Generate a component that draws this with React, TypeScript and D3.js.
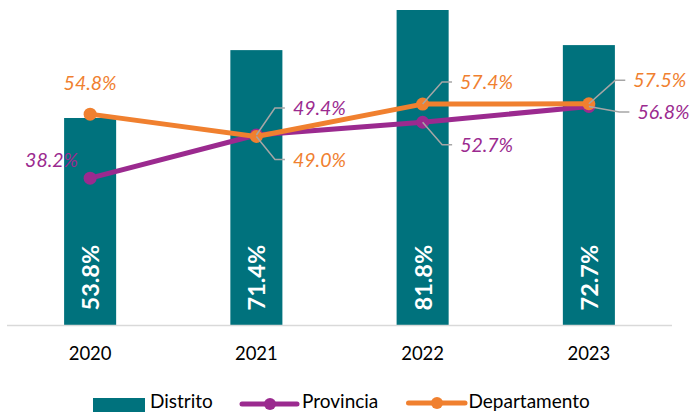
import React from "react";
import * as d3 from "d3";

const years = ["2020", "2021", "2022", "2023"];
const distrito = [53.8, 71.4, 81.8, 72.7];
const provincia = [38.2, 49.4, 52.7, 56.8];
const departamento = [54.8, 49.0, 57.4, 57.5];
const seriesNames = ["Distrito", "Provincia", "Departamento"];

// label placement (offsets from the point)
const provLabelLayout = [
  { dx: -12, dy: -11.5, anchor: "end", leader: false },
  { dx: 36.5, dy: -20, anchor: "start", leader: true },
  { dx: 37.5, dy: 29.5, anchor: "start", leader: true },
  { dx: 48.5, dy: 12.6, anchor: "start", leader: true },
];
const depLabelLayout = [
  { dx: 0, dy: -24, anchor: "middle", leader: false },
  { dx: 36.6, dy: 30, anchor: "start", leader: true },
  { dx: 37.4, dy: -15, anchor: "start", leader: true },
  { dx: 44.4, dy: -16.4, anchor: "start", leader: true },
];

const W = 693;
const H = 412;
const TEAL = "#00727D";
const PURPLE = "#9B2A8F";
const ORANGE = "#F0802F";
const FONT = "Lato, 'Noto Sans', sans-serif";

export default function App() {
  const x = d3.scaleBand<string>().domain(years).range([7, 672]).paddingInner(0).paddingOuter(0);
  const y = d3.scaleLinear().domain([0, 81.8]).range([325.5, 10]);
  const barW = x.bandwidth() * 0.313;
  const cx = (yr: string) => (x(yr) as number) + x.bandwidth() / 2;
  const fmt = (v: number) => v.toFixed(1) + "%";

  const line = d3
    .line<number>()
    .x((_, i) => cx(years[i]))
    .y((v) => y(v));

  const renderLabels = (vals: number[], layout: typeof provLabelLayout, color: string, key: string) =>
    vals.map((v, i) => {
      const px = cx(years[i]);
      const py = y(v);
      const L = layout[i];
      const tx = px + L.dx;
      const ty = py + L.dy;
      const endX = tx - 8;
      const midY = ty - 7;
      return (
        <g key={key + i}>
          {L.leader && (
            <polyline
              points={`${px},${py} ${endX - 10},${midY} ${endX},${midY}`}
              fill="none"
              stroke="#A6A6A6"
              strokeWidth={1.5}
            />
          )}
          <text
            x={tx}
            y={ty}
            textAnchor={L.anchor as any}
            fill={color}
            fontStyle="italic"
            fontSize={19.5}
            fontFamily={FONT}
          >
            {fmt(v)}
          </text>
        </g>
      );
    });

  return (
    <svg width={W} height={H} style={{ position: "absolute", left: 0, top: 0 }} xmlns="http://www.w3.org/2000/svg">
      <rect width={W} height={H} fill="#fff" />
      {/* bars */}
      {distrito.map((v, i) => (
        <rect key={"b" + i} x={cx(years[i]) - barW / 2} y={y(v)} width={barW} height={y(0) - y(v)} fill={TEAL} />
      ))}
      {/* axis line */}
      <line x1={7} x2={672} y1={y(0)} y2={y(0)} stroke="#D9D9D9" strokeWidth={1.5} />
      {/* bar labels */}
      {distrito.map((v, i) => (
        <text
          key={"bl" + i}
          transform={`translate(${cx(years[i])},${y(0) - 15}) rotate(-90)`}
          dominantBaseline="central"
          textAnchor="start"
          fill="#fff"
          fontWeight="bold"
          fontSize={23.5}
          fontFamily={FONT}
        >
          {fmt(v)}
        </text>
      ))}
      {/* year labels */}
      {years.map((yr) => (
        <text key={yr} x={cx(yr)} y={360} textAnchor="middle" fontSize={18.5} fontFamily={FONT} fill="#000">
          {yr}
        </text>
      ))}
      {/* lines */}
      <path d={line(provincia) || ""} fill="none" stroke={PURPLE} strokeWidth={5} strokeLinejoin="round" />
      {provincia.map((v, i) => (
        <circle key={"pc" + i} cx={cx(years[i])} cy={y(v)} r={6.5} fill={PURPLE} />
      ))}
      <path d={line(departamento) || ""} fill="none" stroke={ORANGE} strokeWidth={5} strokeLinejoin="round" />
      {departamento.map((v, i) => (
        <circle key={"dc" + i} cx={cx(years[i])} cy={y(v)} r={6.5} fill={ORANGE} />
      ))}
      {renderLabels(provincia, provLabelLayout, PURPLE, "pl")}
      {renderLabels(departamento, depLabelLayout, ORANGE, "dl")}
      {/* legend */}
      <g fontFamily={FONT} fontSize={19} fill="#000">
        <rect x={93} y={398} width={52} height={16} fill={TEAL} />
        <text x={150} y={408}>{seriesNames[0]}</text>
        <line x1={242} x2={297} y1={404} y2={404} stroke={PURPLE} strokeWidth={5} strokeLinecap="round" />
        <circle cx={270} cy={404} r={6} fill={PURPLE} />
        <text x={302} y={408}>{seriesNames[1]}</text>
        <line x1={408.5} x2={465} y1={403} y2={403} stroke={ORANGE} strokeWidth={5} strokeLinecap="round" />
        <circle cx={437} cy={403} r={6} fill={ORANGE} />
        <text x={468.5} y={408}>{seriesNames[2]}</text>
      </g>
    </svg>
  );
}
